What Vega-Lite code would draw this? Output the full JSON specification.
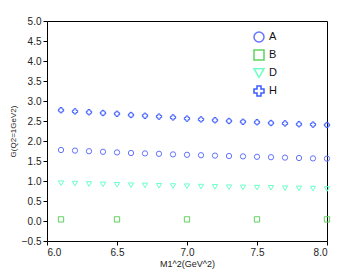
{
  "$schema": "https://vega.github.io/schema/vega-lite/v6.json",
  "width": 280,
  "height": 220,
  "autosize": "none",
  "padding": {"left": 47, "top": 21, "right": 33, "bottom": 32},
  "background": "white",
  "config": {
    "font": "Liberation Sans",
    "view": {"stroke": "#000000", "strokeWidth": 1},
    "axis": {"domain": false, "grid": false, "tickColor": "#000000", "tickSize": 4, "labelFontSize": 10, "labelColor": "#222222", "titleFontWeight": "normal", "titleColor": "#222222"}
  },
  "data": {"values": [
    {"s":"A","m":6.1,"g":1.775},{"s":"A","m":6.2,"g":1.76},{"s":"A","m":6.3,"g":1.745},{"s":"A","m":6.4,"g":1.73},{"s":"A","m":6.5,"g":1.715},{"s":"A","m":6.6,"g":1.7},{"s":"A","m":6.7,"g":1.69},{"s":"A","m":6.8,"g":1.68},{"s":"A","m":6.9,"g":1.665},{"s":"A","m":7.0,"g":1.655},{"s":"A","m":7.1,"g":1.645},{"s":"A","m":7.2,"g":1.635},{"s":"A","m":7.3,"g":1.625},{"s":"A","m":7.4,"g":1.615},{"s":"A","m":7.5,"g":1.605},{"s":"A","m":7.6,"g":1.595},{"s":"A","m":7.7,"g":1.585},{"s":"A","m":7.8,"g":1.575},{"s":"A","m":7.9,"g":1.565},{"s":"A","m":8.0,"g":1.56},
    {"s":"H","m":6.1,"g":2.77},{"s":"H","m":6.2,"g":2.74},{"s":"H","m":6.3,"g":2.72},{"s":"H","m":6.4,"g":2.7},{"s":"H","m":6.5,"g":2.68},{"s":"H","m":6.6,"g":2.65},{"s":"H","m":6.7,"g":2.63},{"s":"H","m":6.8,"g":2.61},{"s":"H","m":6.9,"g":2.59},{"s":"H","m":7.0,"g":2.56},{"s":"H","m":7.1,"g":2.54},{"s":"H","m":7.2,"g":2.52},{"s":"H","m":7.3,"g":2.5},{"s":"H","m":7.4,"g":2.48},{"s":"H","m":7.5,"g":2.47},{"s":"H","m":7.6,"g":2.45},{"s":"H","m":7.7,"g":2.44},{"s":"H","m":7.8,"g":2.42},{"s":"H","m":7.9,"g":2.41},{"s":"H","m":8.0,"g":2.4},
    {"s":"D","m":6.1,"g":0.945},{"s":"D","m":6.2,"g":0.935},{"s":"D","m":6.3,"g":0.925},{"s":"D","m":6.4,"g":0.915},{"s":"D","m":6.5,"g":0.905},{"s":"D","m":6.6,"g":0.895},{"s":"D","m":6.7,"g":0.89},{"s":"D","m":6.8,"g":0.88},{"s":"D","m":6.9,"g":0.875},{"s":"D","m":7.0,"g":0.87},{"s":"D","m":7.1,"g":0.86},{"s":"D","m":7.2,"g":0.855},{"s":"D","m":7.3,"g":0.845},{"s":"D","m":7.4,"g":0.84},{"s":"D","m":7.5,"g":0.835},{"s":"D","m":7.6,"g":0.83},{"s":"D","m":7.7,"g":0.82},{"s":"D","m":7.8,"g":0.815},{"s":"D","m":7.9,"g":0.81},{"s":"D","m":8.0,"g":0.8},
    {"s":"B","m":6.1,"g":0.04},{"s":"B","m":6.5,"g":0.04},{"s":"B","m":7.0,"g":0.04},{"s":"B","m":7.5,"g":0.04},{"s":"B","m":8.0,"g":0.04}
  ]},
  "layer": [
    {
      "mark": {"type": "point", "size": 28, "filled": false, "strokeWidth": 1, "opacity": 1},
      "encoding": {
        "x": {"field": "m", "type": "quantitative", "scale": {"domain": [6, 8], "nice": false, "zero": false},
              "axis": {"values": [6, 6.5, 7, 7.5, 8], "format": ".1f", "labelPadding": 2, "title": "M1^2(GeV^2)", "titleFontSize": 9, "titlePadding": 2}},
        "y": {"field": "g", "type": "quantitative", "scale": {"domain": [-0.5, 5], "nice": false, "zero": false},
              "axis": {"values": [-0.5, 0, 0.5, 1, 1.5, 2, 2.5, 3, 3.5, 4, 4.5, 5], "labelPadding": 2, "title": "G(Q2=1GeV2)", "titleFontSize": 8, "titlePadding": 4}},
        "color": {"field": "s", "type": "nominal", "scale": {"domain": ["A","B","D","H"], "range": ["#6474ff","#5fd35f","#6dffc8","#3c5cff"]}, "legend": {"orient": "none", "legendX": 200, "legendY": 4, "title": null, "fillColor": "white", "padding": 6, "labelFontSize": 11, "labelColor": "#111111", "rowPadding": 2}},
        "shape": {"field": "s", "type": "nominal", "scale": {"domain": ["A","B","D","H"], "range": ["circle","square","triangle-down","cross"]}, "legend": {"orient": "none", "legendX": 200, "legendY": 4, "title": null, "fillColor": "white", "padding": 6, "labelFontSize": 11, "labelColor": "#111111", "rowPadding": 2}}
      }
    }
  ]
}
